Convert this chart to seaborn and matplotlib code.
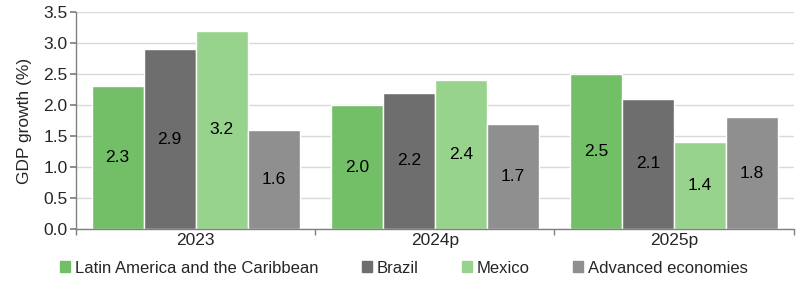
import matplotlib
matplotlib.use("Agg")
import matplotlib.pyplot as plt
import seaborn as sns
import pandas as pd
import numpy as np

years = ["2023", "2024p", "2025p"]
series = ["Latin America and the Caribbean", "Brazil", "Mexico", "Advanced economies"]
latam = [2.3, 2.0, 2.5]
brazil = [2.9, 2.2, 2.1]
mexico = [3.2, 2.4, 1.4]
advanced = [1.6, 1.7, 1.8]
colors = ["#72BF67", "#6E6E6E", "#98D38E", "#8F8F8F"]

rows = []
for s, vals in zip(series, [latam, brazil, mexico, advanced]):
    for y, v in zip(years, vals):
        rows.append({"year": y, "series": s, "value": v})
df = pd.DataFrame(rows)

sns.set_theme(style="white")
plt.rcParams['font.family'] = ['Liberation Sans', 'DejaVu Sans']

fig = plt.figure(figsize=(8, 2.93), dpi=100)
ax = fig.add_axes([0.095, 0.218, 0.897, 0.741])
sns.barplot(data=df, x="year", y="value", hue="series", palette=colors,
            hue_order=series, order=years, width=0.87, edgecolor="white",
            linewidth=1, ax=ax, legend=True, saturation=1)

for cont in ax.containers:
    for bar in cont:
        h = bar.get_height()
        ax.text(bar.get_x() + bar.get_width() / 2, h / 2, f"{h:.1f}",
                ha="center", va="center", fontsize=12.5, color="black")

ax.set_ylim(0, 3.5)
ax.set_yticks(np.arange(0, 3.51, 0.5))
ax.set_yticklabels([f"{t:.1f}" for t in np.arange(0, 3.51, 0.5)], fontsize=12.5)
ax.set_xlim(-0.5, 2.5)
ax.set_xlabel("")
ax.set_ylabel("GDP growth (%)", fontsize=12.5, labelpad=8)
ax.yaxis.grid(True, color="#D9D9D9", linewidth=1)
ax.set_axisbelow(True)
ax.tick_params(axis="x", length=0, labelsize=12.5, pad=3)
ax.tick_params(axis="y", length=4, color="#808080", direction="out", left=True, pad=2)
ax.set_xticks([-0.5, 0.5, 1.5, 2.5], minor=True)
ax.tick_params(axis="x", which="minor", length=4, color="#808080", direction="out", bottom=True)
for side in ["top", "right"]:
    ax.spines[side].set_visible(False)
for side in ["left", "bottom"]:
    ax.spines[side].set_color("#808080")
    ax.spines[side].set_linewidth(1)

ax.legend_.remove()
handles = [plt.Rectangle((0, 0), 1, 1, color=c) for c in colors]
fig.legend(handles, series, loc="center", bbox_to_anchor=(0.505, 0.085), ncol=4,
           frameon=False, fontsize=12, handlelength=0.6, handleheight=0.6,
           handletextpad=0.3, columnspacing=2.6)

fig.savefig("out.png", dpi=100)
